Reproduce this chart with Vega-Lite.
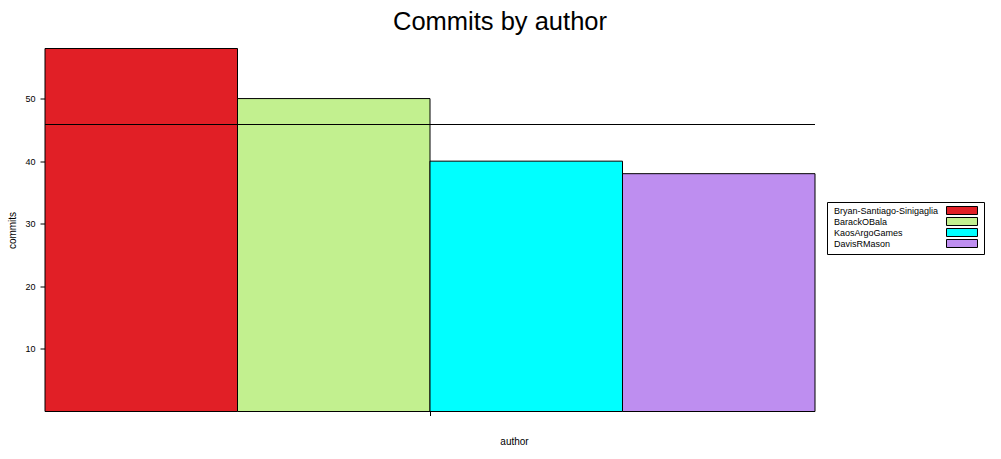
{
  "$schema": "https://vega.github.io/schema/vega-lite/v6.json",
  "width": 770,
  "height": 363,
  "autosize": "none",
  "padding": {"left": 45, "top": 48.5, "right": 186, "bottom": 47.5},
  "background": "white",
  "config": {
    "view": {"stroke": null},
    "font": "Liberation Sans",
    "axis": {"grid": false, "labelFont": "Liberation Sans", "titleFont": "Liberation Sans"}
  },
  "title": {
    "text": "Commits by author",
    "fontSize": 25.5,
    "fontWeight": "normal",
    "font": "Liberation Sans",
    "color": "black",
    "anchor": "middle",
    "dx": 70,
    "offset": 13
  },
  "data": {
    "values": [
      {"author": "Bryan-Santiago-Sinigaglia", "commits": 58},
      {"author": "BarackOBala", "commits": 50},
      {"author": "KaosArgoGames", "commits": 40},
      {"author": "DavisRMason", "commits": 38}
    ]
  },
  "layer": [
    {
      "mark": {"type": "bar", "stroke": "black", "strokeWidth": 1},
      "encoding": {
        "x": {
          "field": "author",
          "type": "nominal",
          "sort": null,
          "scale": {"paddingInner": 0, "paddingOuter": 0},
          "axis": {
            "values": ["KaosArgoGames"],
            "bandPosition": 0,
            "labels": false,
            "domain": false,
            "ticks": true,
            "tickSize": 4,
            "tickColor": "black",
            "title": "author",
            "titleFontSize": 10,
            "titleFontWeight": "normal",
            "titleColor": "black",
            "titleX": 469,
            "titleY": 30,
            "titleAlign": "center",
            "titleBaseline": "middle"
          }
        },
        "y": {
          "field": "commits",
          "type": "quantitative",
          "scale": {"domain": [0, 58], "nice": false, "zero": true},
          "axis": {
            "values": [10, 20, 30, 40, 50],
            "domain": false,
            "tickSize": 5,
            "tickColor": "black",
            "labelFontSize": 9,
            "labelColor": "black",
            "labelPadding": 5,
            "title": "commits",
            "titleFontSize": 10,
            "titleFontWeight": "normal",
            "titleColor": "black",
            "titlePadding": 7
          }
        },
        "fill": {
          "field": "author",
          "type": "nominal",
          "sort": null,
          "scale": {
            "domain": ["Bryan-Santiago-Sinigaglia", "BarackOBala", "KaosArgoGames", "DavisRMason"],
            "range": ["#E11F26", "#C2F08F", "#00FFFF", "#BE8EF0"]
          },
          "legend": {
            "title": null,
            "orient": "none",
            "legendX": 782,
            "legendY": 153.5,
            "direction": "vertical",
            "strokeColor": "black",
            "fillColor": "white",
            "padding": 4,
            "symbolType": "M-7.75,-2L7.75,-2L7.75,2L-7.75,2Z",
            "symbolSize": 16,
            "symbolStrokeColor": "black",
            "symbolStrokeWidth": 1,
            "rowPadding": -5,
            "symbolOffset": 126.5,
            "labelOffset": -132.5,
            "labelFontSize": 9,
            "labelFont": "Liberation Sans",
            "labelColor": "black",
            "labelLimit": 200
          }
        }
      }
    },
    {
      "mark": {"type": "rule", "color": "black", "strokeWidth": 1, "yOffset": 0.9},
      "encoding": {"y": {"datum": 46}}
    }
  ]
}
